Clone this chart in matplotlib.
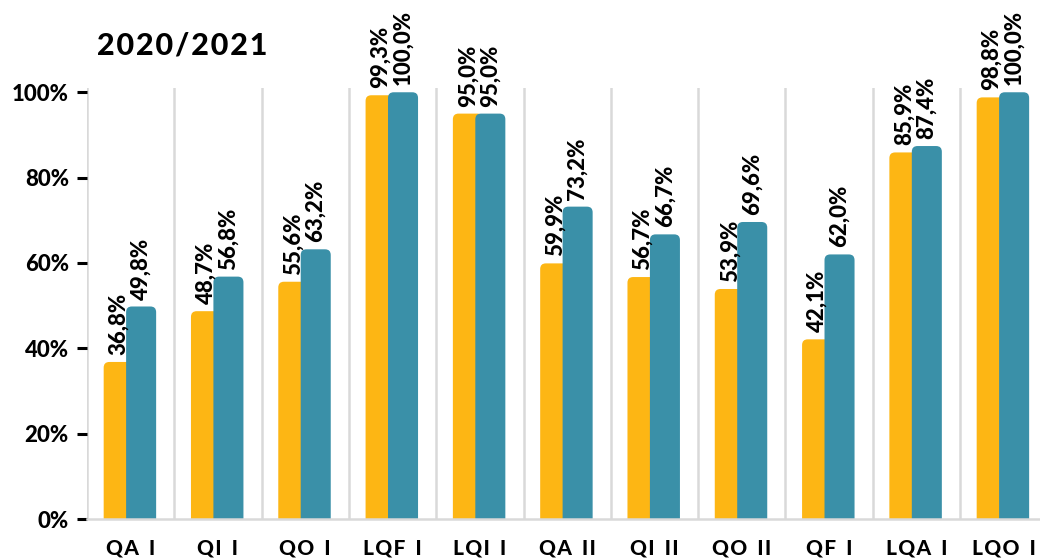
import matplotlib.pyplot as plt
from matplotlib.patches import FancyBboxPatch

# Données
categories = ["QA I", "QI I", "QO I", "LQF I", "LQI I", "QA II",
              "QI II", "QO II", "QF I", "LQA I", "LQO I"]
serie_1 = [36.8, 48.7, 55.6, 99.3, 95.0, 59.9, 56.7, 53.9, 42.1, 85.9, 98.8]
serie_2 = [49.8, 56.8, 63.2, 100.0, 95.0, 73.2, 66.7, 69.6, 62.0, 87.4, 100.0]
yticks = [0, 20, 40, 60, 80, 100]

orange = "#FDB614"
bleu = "#3A90A8"
gris = "#D9D9D9"

plt.rcParams['font.family'] = ['Lato', 'DejaVu Sans']
poids = 'black'

fig = plt.figure(figsize=(10.4, 5.59), dpi=100)
ax = fig.add_axes([87 / 1040, 1 - 519 / 559, 1 - 87 / 1040, (519 - 88) / 559])

ymax = 101
ax.set_ylim(0, ymax)
ax.set_xlim(-0.5, -0.5 + (1040 - 87) / 87.3)

largeur = 0.344
dx1, dx2 = -0.137, 0.12
r = 0.065                      # arrondi en unités x
aspect = (6 / 4.25) / (6 / 87.3)

def barre(x, h, couleur):
    p = FancyBboxPatch((x - largeur / 2, -4), largeur, h + 4,
                       boxstyle="round,pad=0,rounding_size=%g" % r,
                       mutation_aspect=aspect, fc=couleur, ec='none',
                       zorder=3)
    ax.add_patch(p)

for i, (a, b) in enumerate(zip(serie_1, serie_2)):
    barre(i + dx1, a, orange)
    barre(i + dx2, b, bleu)
    for x, v in ((i + dx1, a), (i + dx2, b)):
        ax.annotate(("%.1f%%" % v).replace('.', ','), (x, min(v, ymax)),
                    xytext=(0, 5), textcoords='offset points',
                    rotation=90, ha='center', va='bottom',
                    fontsize=16, fontweight=poids, color='black',
                    annotation_clip=False)

# séparateurs verticaux
for k in range(len(categories) + 1):
    ax.axvline(k - 0.5, color=gris, lw=1.8, zorder=1)

for s in ['top', 'right', 'left']:
    ax.spines[s].set_visible(False)
ax.spines['bottom'].set_color(gris)
ax.spines['bottom'].set_linewidth(1.8)
ax.spines['bottom'].set_zorder(4)

ax.set_yticks(yticks)
ax.set_yticklabels(["%d%%" % t for t in yticks], fontsize=16, fontweight=poids)
ax.tick_params(axis='y', length=7, width=2.2, color='black', pad=6)

hs = "\u200a"
ax.set_xticks(range(len(categories)))
ax.set_xticklabels([" ".join(hs.join(m) for m in c.split(" ")).replace(" ", "  ")
                    for c in categories],
                   fontsize=15, fontweight=poids)
ax.tick_params(axis='x', length=0, pad=14)

fig.text(97 / 1040, 1 - 45 / 559, hs.join("2020/2021"),
         fontsize=22, fontweight=poids, va='center', ha='left')

fig.savefig("out.png", dpi=100)
